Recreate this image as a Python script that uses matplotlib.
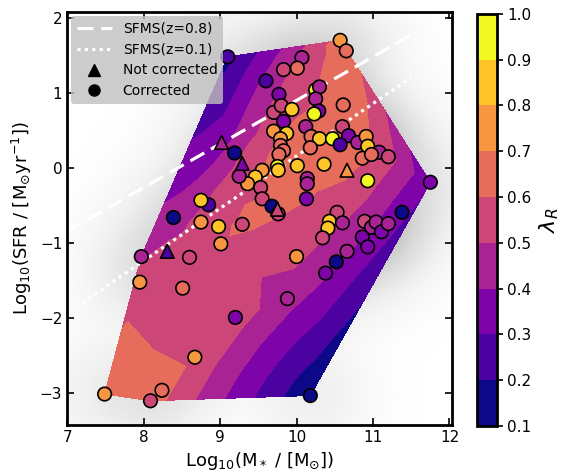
import numpy as np
import matplotlib
matplotlib.use("Agg")
import matplotlib.pyplot as plt
from matplotlib.lines import Line2D
from matplotlib.tri import Triangulation

# ---------------- data ----------------
# Corrected galaxies (circles): log stellar mass, log SFR, lambda_R
mass_c = [9.10, 10.57, 10.65, 10.07, 9.83, 10.01, 9.60, 9.77, 9.70, 9.80, 9.94, 9.83,
          10.25, 10.30, 10.25, 10.29, 10.23, 10.61, 10.12, 9.70, 9.87, 9.79, 10.19, 10.30,
          10.47, 10.60, 10.68, 10.57, 10.80, 10.91, 10.93, 11.08, 11.20, 10.86, 10.98,
          10.93, 10.36, 10.14, 10.14, 10.13, 9.79, 9.83, 9.77, 10.18, 10.01, 9.75, 9.76,
          9.55, 9.46, 9.36, 9.53, 9.25, 9.19, 8.85, 8.75, 8.98, 8.75, 9.01, 9.29, 9.55,
          9.68, 9.76, 10.53, 10.43, 10.41, 10.60, 10.34, 10.89, 10.98, 11.04, 11.11, 11.20,
          10.86, 10.93, 11.75, 11.38, 10.66, 10.52, 10.38, 9.88, 10.00, 8.39, 7.97, 8.60,
          7.95, 8.51, 9.20, 8.67, 7.49, 8.09, 8.24, 10.18]
sfr_c = [1.48, 1.70, 1.56, 1.47, 1.31, 1.33, 1.16, 0.98, 0.74, 0.83, 0.78, 0.62,
         1.04, 1.08, 0.92, 0.76, 0.72, 0.84, 0.55, 0.49, 0.46, 0.39, 0.42, 0.39,
         0.39, 0.55, 0.43, 0.31, 0.34, 0.42, 0.29, 0.21, 0.15, 0.13, 0.18,
         -0.17, 0.05, -0.14, -0.21, -0.41, 0.30, 0.23, 0.18, 0.27, 0.03, 0.02, -0.03,
         -0.03, -0.12, -0.21, -0.26, -0.11, 0.20, -0.49, -0.43, -0.78, -0.72, -1.01, -0.75,
         -0.41, -0.51, -0.61, -0.59, -0.71, -0.80, -0.73, -0.93, -0.71, -0.79, -0.72, -0.85,
         -0.74, -0.92, -1.05, -0.19, -0.59, -1.11, -1.25, -1.40, -1.74, -1.18, -0.66, -1.18,
         -1.19, -1.52, -1.60, -1.99, -2.52, -3.01, -3.10, -2.96, -3.03]
lam_c = [0.25, 0.75, 0.65, 0.45, 0.55, 0.62, 0.25, 0.32, 0.52, 0.52, 0.85, 0.30,
         0.95, 0.40, 0.45, 0.35, 0.95, 0.65, 0.45, 0.75, 0.82, 0.75, 0.60, 0.85,
         0.95, 0.55, 0.38, 0.25, 0.42, 0.75, 0.85, 0.45, 0.52, 0.62, 0.62,
         0.95, 0.82, 0.45, 0.45, 0.30, 0.62, 0.60, 0.60, 0.60, 0.85, 0.95, 0.85,
         0.75, 0.85, 0.75, 0.55, 0.45, 0.15, 0.27, 0.85, 0.85, 0.75, 0.75, 0.55, 0.55,
         0.15, 0.55, 0.55, 0.85, 0.85, 0.45, 0.50, 0.50, 0.40, 0.45, 0.35, 0.45,
         0.35, 0.35, 0.35, 0.15, 0.40, 0.15, 0.35, 0.42, 0.75, 0.15, 0.45, 0.55,
         0.75, 0.65, 0.30, 0.75, 0.75, 0.55, 0.65, 0.15]

# Not corrected galaxies (triangles)
mass_t = [9.02, 9.29, 8.31, 10.66, 9.75]
sfr_t = [0.34, 0.06, -1.11, -0.03, -0.55]
lam_t = [0.42, 0.33, 0.28, 0.75, 0.55]

# Star-forming main sequences: slope, intercept, mass range
sfms_labels = ["SFMS(z=0.8)", "SFMS(z=0.1)"]
sfms_slope = [0.58, 0.698]
sfms_icpt = [-4.90, -6.82]
sfms_xmin = [7.0, 7.2]
sfms_xmax = [11.5, 11.5]

levels = [0.1, 0.2, 0.3, 0.4, 0.5, 0.6, 0.7, 0.8, 0.9, 1.0]
cbar_ticks = [0.1, 0.2, 0.3, 0.4, 0.5, 0.6, 0.7, 0.8, 0.9, 1.0]
xticks = [7, 8, 9, 10, 11, 12]
yticks = [-3, -2, -1, 0, 1, 2]

# ---------------- helpers ----------------
def loess2d(x, y, z, frac=0.4, degree=1, robust=True):
    """Locally weighted (tricube) polynomial regression evaluated at the points."""
    n = len(x)
    k = min(max(int(np.ceil(frac * n)), 6), n)
    if degree == 1:
        A = np.column_stack([np.ones(n), x, y])
    else:
        A = np.column_stack([np.ones(n), x, y, x * x, x * y, y * y])
    rw = np.ones(n)
    out = np.empty(n)
    for _ in range(4 if robust else 1):
        for i in range(n):
            d = np.hypot(x - x[i], y - y[i])
            h = np.sort(d)[k - 1] * 1.0001
            w = np.clip(1 - (d / h) ** 3, 0, None) ** 3 * rw
            W = np.sqrt(w)
            coef, *_ = np.linalg.lstsq(A * W[:, None], z * W, rcond=None)
            out[i] = A[i] @ coef
        res = z - out
        s = np.median(np.abs(res))
        u = res / (6 * s + 1e-12)
        rw = np.clip(1 - u ** 2, 0, None) ** 2
    return out

mx = np.array(mass_c + mass_t)
my = np.array(sfr_c + sfr_t)
ml = np.array(lam_c + lam_t)
smooth = 0.5 * (loess2d(mx, my, ml, frac=0.4, degree=1) +
                loess2d(mx, my, ml, frac=1.0, degree=2))
smooth = np.clip(smooth, 0.1001, 0.9999)

cmap = plt.get_cmap("plasma", 9)

# ---------------- figure ----------------
plt.rcParams["font.family"] = "DejaVu Sans"
fig = plt.figure(figsize=(5.69, 4.71), dpi=100)
ax = fig.add_axes([0.118, 0.098, 0.676, 0.877])
cax = fig.add_axes([0.838, 0.0955, 0.035, 0.875])

xlim = (7.0, 12.03)
ylim = (-3.42, 2.08)

# grey density halo
gx, gy = np.meshgrid(np.linspace(*xlim, 300), np.linspace(*ylim, 300))
dens = np.zeros_like(gx)
bw = 0.4
for a, b in zip(mx, my):
    dens += np.exp(-((gx - a) ** 2 + (gy - b) ** 2) / (2 * bw ** 2))
dens = np.sqrt(dens)
ax.imshow(dens, extent=(*xlim, *ylim), origin="lower", cmap="Greys",
          vmin=0, vmax=dens.max() * 1.75, aspect="auto", zorder=0,
          interpolation="bilinear")

tri = Triangulation(mx, my)
cs = ax.tricontourf(tri, smooth, levels=levels, cmap=cmap, vmin=0.1, vmax=1.0, zorder=1)

dash_styles = [(0, (5, 2.4)), (0, (1.0, 1.3))]
for lab, s, c, x0, x1, ls in zip(sfms_labels, sfms_slope, sfms_icpt, sfms_xmin, sfms_xmax,
                                  dash_styles):
    xx = np.array([x0, x1])
    ax.plot(xx, s * xx + c, color="white", lw=2.3, ls=ls, zorder=2)

ax.scatter(mass_c, sfr_c, c=lam_c, cmap=cmap, vmin=0.1, vmax=1.0, s=95,
           marker="o", edgecolors="black", linewidths=1.2, zorder=3)
ax.scatter(mass_t, sfr_t, c=lam_t, cmap=cmap, vmin=0.1, vmax=1.0, s=95,
           marker="^", edgecolors="black", linewidths=1.2, zorder=3)

ax.set_xlim(*xlim)
ax.set_ylim(*ylim)
ax.set_xticks(xticks)
ax.set_yticks(yticks)
ax.tick_params(direction="in", top=True, right=True, length=5, width=1.2, labelsize=11)
for sp in ax.spines.values():
    sp.set_linewidth(2)
ax.set_xlabel(r"Log$_{10}$(M$_*$ / [M$_{\odot}$])", fontsize=13)
ax.set_ylabel(r"Log$_{10}$(SFR / [M$_{\odot}$yr$^{-1}$])", fontsize=13)

handles = [
    Line2D([], [], color="white", lw=2.3, ls=dash_styles[0]),
    Line2D([], [], color="white", lw=2.3, ls=dash_styles[1]),
    Line2D([], [], color="black", marker="^", ls="none", markersize=8),
    Line2D([], [], color="black", marker="o", ls="none", markersize=8),
]
leg = ax.legend(handles, sfms_labels + ["Not corrected", "Corrected"], loc="upper left",
                fontsize=10, facecolor="silver", framealpha=0.8, edgecolor="none",
                borderaxespad=0.3, handlelength=2.5)
leg.set_zorder(5)

cb = fig.colorbar(cs, cax=cax, ticks=cbar_ticks)
cb.outline.set_linewidth(2)
cb.ax.tick_params(labelsize=11, width=1.2, length=4)
cb.set_label(r"$\lambda_R$", fontsize=16)

fig.savefig("out.png", dpi=100)
